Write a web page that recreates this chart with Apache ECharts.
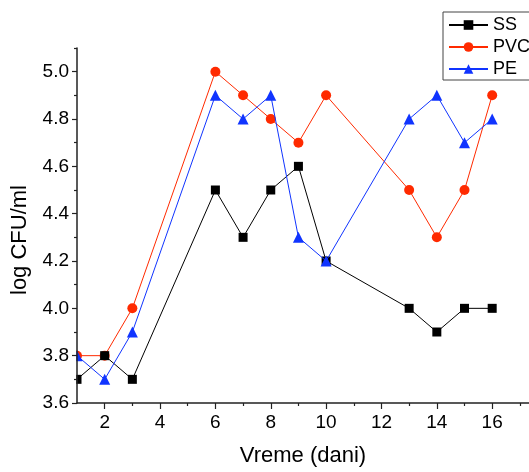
<!DOCTYPE html>
<html>
<head>
<meta charset="utf-8">
<script src="https://cdn.jsdelivr.net/npm/echarts@6/dist/echarts.min.js"></script>
<style>
  html, body { margin: 0; padding: 0; background: #fff; }
  #chart { width: 529px; height: 472px; }
</style>
</head>
<body>
<div id="chart"></div>
<script>
// Sampling days
const days = [1, 2, 3, 6, 7, 8, 9, 10, 13, 14, 15, 16];
// log CFU/ml per surface material
const ss  = [3.7, 3.8, 3.7, 4.5, 4.3, 4.5, 4.6, 4.2, 4.0, 3.9, 4.0, 4.0];
const pvc = [3.8, 3.8, 4.0, 5.0, 4.9, 4.8, 4.7, 4.9, 4.5, 4.3, 4.5, 4.9];
const pe  = [3.8, 3.7, 3.9, 4.9, 4.8, 4.9, 4.3, 4.2, 4.8, 4.9, 4.7, 4.8];

const seriesNames = ['SS', 'PVC', 'PE'];
const xMajorTicks = [2, 4, 6, 8, 10, 12, 14, 16];
const xMinorTicks = [3, 5, 7, 9, 11, 13, 15, 17];
const yMajorTicks = [3.6, 3.8, 4.0, 4.2, 4.4, 4.6, 4.8, 5.0];
const yMinorTicks = [3.7, 3.9, 4.1, 4.3, 4.5, 4.7, 4.9, 5.1];

const FONT = '"Liberation Sans", Arial, sans-serif';
const AXIS_COLOR = '#222';

const pairs = (ys) => days.map((d, i) => [d, ys[i]]);

const chart = echarts.init(document.getElementById('chart'), null, { renderer: 'canvas' });

const xBase = { type: 'value', min: 1, max: 17.33, gridIndex: 0, splitLine: { show: false } };
const yBase = { type: 'value', min: 3.6, max: 5.1, gridIndex: 0, splitLine: { show: false }, z: 10 };

chart.setOption({
  animation: false,
  backgroundColor: '#fff',
  grid: { left: 77, top: 48, right: 0, bottom: 64, containLabel: false },
  legend: {
    data: seriesNames,
    orient: 'vertical',
    left: 443,
    top: 12,
    padding: [4, 6, 2, 5],
    itemWidth: 39,
    itemHeight: 12,
    itemGap: 4,
    borderColor: '#444',
    borderWidth: 1,
    textStyle: { fontFamily: FONT, fontSize: 18, color: '#000', padding: [0, 0, 0, 0] }
  },
  xAxis: [
    Object.assign({}, xBase, {
      position: 'bottom',
      axisLine: { show: true, onZero: false, lineStyle: { color: AXIS_COLOR, width: 1.5 } },
      axisTick: { show: true, inside: false, length: 6, customValues: xMajorTicks, lineStyle: { color: AXIS_COLOR, width: 1.2 } },
      axisLabel: { show: true, margin: 10, customValues: xMajorTicks, fontFamily: FONT, fontSize: 19, color: '#000' },
      name: 'Vreme (dani)',
      nameLocation: 'middle',
      nameGap: 42,
      nameTextStyle: { fontFamily: FONT, fontSize: 22, color: '#000' }
    }),
    Object.assign({}, xBase, {
      position: 'bottom',
      axisLine: { show: false, onZero: false },
      axisTick: { show: true, inside: false, length: 3, customValues: xMinorTicks, lineStyle: { color: AXIS_COLOR, width: 1.2 } },
      axisLabel: { show: false }
    })
  ],
  yAxis: [
    Object.assign({}, yBase, {
      position: 'left',
      interval: 0.2,
      axisLine: { show: true, onZero: false, lineStyle: { color: AXIS_COLOR, width: 1.5 } },
      axisTick: { show: true, inside: false, length: 5, customValues: yMajorTicks, lineStyle: { color: AXIS_COLOR, width: 1.2 } },
      axisLabel: {
        show: true, margin: 8, customValues: yMajorTicks,
        fontFamily: FONT, fontSize: 19, color: '#000',
        formatter: (v) => v.toFixed(1)
      }
    }),
    Object.assign({}, yBase, {
      position: 'left',
      axisLine: { show: false, onZero: false },
      axisTick: { show: true, inside: false, length: 3, customValues: yMinorTicks, lineStyle: { color: AXIS_COLOR, width: 1.2 } },
      axisLabel: { show: false }
    })
  ],
  graphic: [
    // mask so markers sitting on the left axis are cut at the plot edge
    {
      type: 'rect',
      z: 5,
      silent: true,
      shape: { x: 56, y: 48, width: 20.3, height: 360 },
      style: { fill: '#fff' }
    },
    {
      type: 'text',
      x: 20,
      y: 240,
      z: 20,
      rotation: Math.PI / 2,
      style: {
        text: 'log CFU/ml',
        font: '22px ' + FONT,
        fill: '#000',
        align: 'center',
        verticalAlign: 'middle'
      }
    }
  ],
  series: [
    {
      name: 'SS', type: 'line', xAxisIndex: 0, yAxisIndex: 0,
      data: pairs(ss),
      symbol: 'rect', symbolSize: 9,
      itemStyle: { color: '#000' },
      lineStyle: { color: '#000', width: 1 },
      z: 3
    },
    {
      name: 'PVC', type: 'line', xAxisIndex: 0, yAxisIndex: 0,
      data: pairs(pvc),
      symbol: 'circle', symbolSize: 10,
      itemStyle: { color: '#ff2a00' },
      lineStyle: { color: '#ff2a00', width: 1 },
      z: 2
    },
    {
      name: 'PE', type: 'line', xAxisIndex: 0, yAxisIndex: 0,
      data: pairs(pe),
      symbol: 'triangle', symbolSize: 11,
      itemStyle: { color: '#1034ff' },
      lineStyle: { color: '#1034ff', width: 1 },
      z: 4
    }
  ]
});
</script>
</body>
</html>
